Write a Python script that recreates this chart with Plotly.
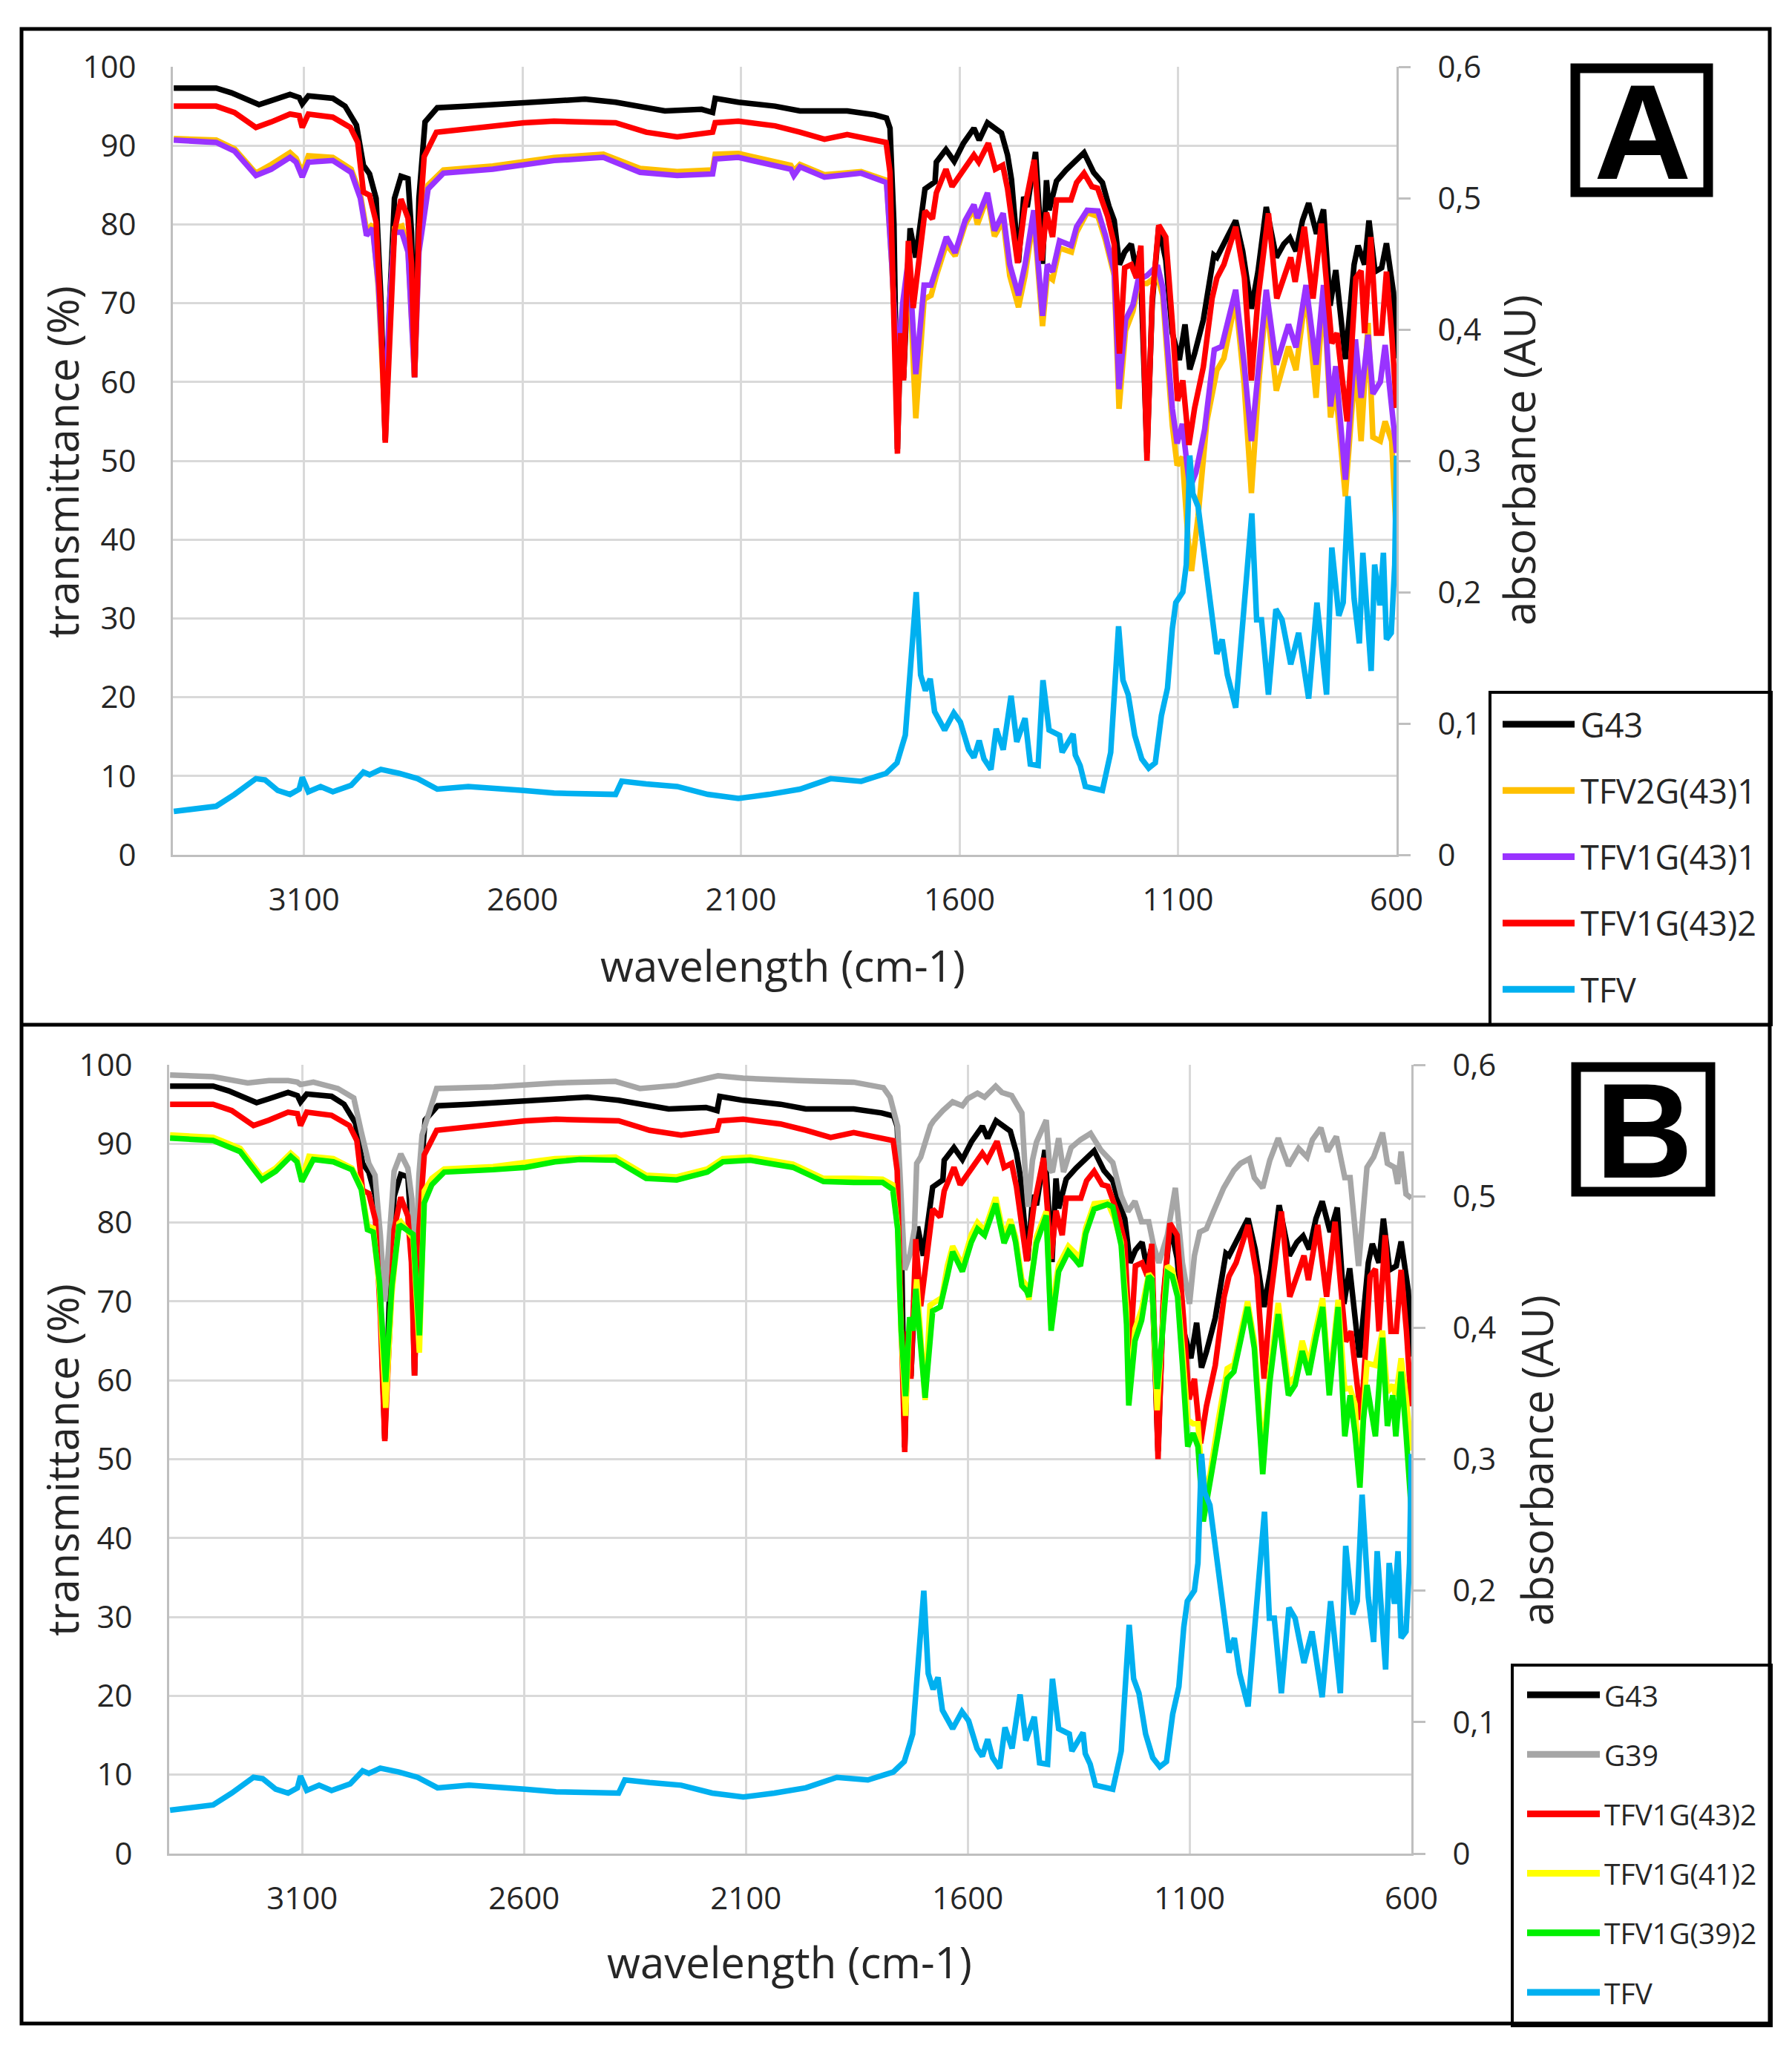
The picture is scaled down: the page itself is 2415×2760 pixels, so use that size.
import plotly.graph_objects as go

# ---------------- data (wavenumber cm-1, value) ----------------
# transmittance (%) series
G43 = [(3398,97.3),(3301,97.3),(3266,96.7),(3203,95.2),(3175,95.7),(3132,96.5),(3111,96.1),(3104,95.3),(3090,96.3),(3034,96.0),
       (3006,95.0),(2980,92.6),(2964,87.5),(2950,86.4),(2935,83.3),(2924,70.6),(2914,52.6),(2904,70.0),(2893,83.3),(2878,86.1),
       (2862,85.8),(2854,79.0),(2847,60.6),(2837,83.3),(2823,93.0),(2795,94.8),(2724,95.0),(2598,95.4),(2457,95.9),(2387,95.5),
       (2317,94.9),(2274,94.4),(2190,94.6),(2165,94.2),(2159,96.0),(2106,95.5),(2022,95.0),(1965,94.4),(1857,94.4),(1794,93.9),
       (1767,93.5),(1759,92.2),(1750,80.0),(1742,51.5),(1735,66.0),(1728,60.5),(1713,79.5),(1700,75.8),(1679,84.5),(1656,85.4),
       (1653,87.9),(1631,89.5),(1612,88.0),(1591,90.3),(1567,92.2),(1555,90.7),(1536,92.9),(1520,92.2),(1504,91.6),(1490,88.8),
       (1481,85.7),(1465,75.2),(1453,83.5),(1445,82.2),(1426,89.2),(1410,75.0),(1401,85.6),(1395,81.8),(1378,85.5),(1356,86.9),
       (1334,88.0),(1315,89.1),(1293,86.6),(1273,85.3),(1258,82.3),(1246,80.5),(1234,74.9),(1222,76.5),(1207,77.5),(1195,74.0),
       (1187,76.6),(1171,51.0),(1159,70.0),(1144,79.7),(1128,75.5),(1113,66.2),(1097,62.8),(1084,67.3),(1073,61.6),(1062,63.6),
       (1042,67.9),(1018,76.1),(1011,75.8),(987,78.4),(968,80.5),(952,76.6),(932,69.3),(917,74.0),(898,82.2),(875,75.8),
       (858,77.5),(844,78.3),(830,76.6),(815,80.5),(801,82.7),(783,78.8),(767,81.9),(752,69.7),(739,74.2),(717,62.9),
       (697,74.9),(688,77.3),(673,74.9),(663,80.5),(649,74.0),(634,74.5),(623,77.6),(607,71.4),(600,63.0)]

G39 = [(3398,98.7),(3301,98.5),(3223,97.7),(3175,98.0),(3132,98.0),(3111,97.8),(3104,97.5),(3075,97.8),(3020,97.0),(2984,95.8),
       (2967,91.5),(2950,87.5),(2936,86.0),(2924,78.4),(2914,70.0),(2904,78.0),(2893,86.5),(2878,88.7),(2862,86.9),(2853,83.0),
       (2847,70.8),(2837,86.0),(2830,91.1),(2797,97.0),(2668,97.2),(2528,97.7),(2394,97.9),(2339,97.0),(2256,97.4),(2163,98.6),
       (2106,98.3),(1981,98.0),(1857,97.8),(1790,97.1),(1775,95.9),(1758,92.2),(1750,84.0),(1742,74.0),(1730,76.0),(1720,79.2),
       (1715,87.5),(1706,88.3),(1684,92.3),(1677,92.9),(1656,94.2),(1634,95.3),(1612,94.8),(1600,95.7),(1578,96.4),(1562,95.9),
       (1537,97.3),(1523,96.5),(1501,96.1),(1478,93.9),(1471,87.0),(1464,82.0),(1454,87.9),(1445,90.2),(1423,93.0),(1415,86.8),
       (1409,86.4),(1395,90.7),(1384,86.4),(1367,89.5),(1346,90.5),(1323,91.3),(1300,89.2),(1273,87.6),(1254,83.4),(1239,81.4),
       (1223,82.7),(1208,80.1),(1192,80.1),(1181,77.1),(1169,74.9),(1150,78.4),(1132,84.4),(1116,74.9),(1100,69.7),(1089,75.8),
       (1077,78.8),(1062,79.2),(1046,81.4),(1023,84.4),(1000,86.6),(985,87.5),(965,88.1),(954,85.7),(935,84.4),(919,87.9),
       (900,90.7),(877,87.2),(854,89.4),(835,88.3),(823,90.5),(804,92.0),(789,89.0),(769,90.9),(750,85.7),(738,85.7),
       (719,74.5),(700,87.0),(685,88.3),(665,91.4),(654,87.5),(638,87.0),(631,84.9),(623,89.0),(612,83.6),(600,83.1)]

TFV2G_43_1 = [(3398,90.9),(3301,90.7),(3259,89.6),(3210,86.5),(3175,87.6),(3132,89.1),(3118,88.4),(3104,86.6),(3090,88.7),(3034,88.5),
       (2992,87.0),(2971,83.8),(2957,79.2),(2943,80.0),(2930,72.0),(2914,54.5),(2904,69.0),(2893,79.5),(2876,79.8),(2862,77.0),
       (2847,60.6),(2837,77.0),(2816,85.0),(2781,86.9),(2668,87.4),(2528,88.5),(2415,88.9),(2331,87.1),(2246,86.7),(2165,86.9),
       (2159,88.9),(2106,89.0),(1986,87.5),(1979,86.8),(1965,87.6),(1909,86.3),(1825,86.7),(1794,86.2),(1767,85.6),(1755,75.0),
       (1742,60.0),(1730,69.0),(1716,75.0),(1700,55.4),(1681,70.5),(1665,71.0),(1653,73.5),(1630,77.5),(1610,76.0),(1587,80.0),
       (1567,82.0),(1559,80.0),(1536,83.5),(1520,78.5),(1500,80.5),(1485,73.5),(1465,69.5),(1450,73.5),(1430,81.0),(1410,67.1),
       (1399,73.5),(1387,73.0),(1371,77.0),(1344,76.5),(1332,79.0),(1308,81.5),(1283,81.0),(1266,78.0),(1246,73.5),(1235,56.6),
       (1220,66.5),(1203,69.0),(1191,72.5),(1171,72.5),(1147,73.5),(1135,71.0),(1113,54.5),(1102,49.4),(1090,50.5),(1077,40.0),
       (1069,36.0),(1054,43.0),(1034,55.0),(1011,61.5),(995,63.0),(968,70.5),(949,60.0),(932,45.9),(915,60.0),(898,70.5),
       (875,58.9),(847,64.5),(830,61.5),(807,71.5),(784,58.0),(767,71.5),(751,55.5),(739,59.0),(717,45.5),(694,62.5),
       (681,52.5),(665,67.5),(654,53.0),(637,52.5),(626,55.0),(611,52.5),(600,40.0)]

TFV1G_43_1 = [(3398,90.7),(3301,90.4),(3259,89.3),(3210,86.2),(3175,87.0),(3132,88.5),(3118,87.9),(3104,86.0),(3090,87.9),(3034,88.1),
       (2992,86.6),(2971,83.3),(2957,78.6),(2943,79.5),(2930,72.5),(2914,56.5),(2904,70.0),(2893,79.0),(2876,79.0),(2862,76.5),
       (2847,60.6),(2837,76.5),(2816,84.5),(2781,86.5),(2668,87.0),(2528,88.1),(2415,88.5),(2331,86.6),(2246,86.2),(2165,86.4),
       (2159,88.3),(2106,88.5),(1986,87.0),(1979,86.2),(1965,87.3),(1909,86.0),(1825,86.5),(1794,85.9),(1767,85.3),(1755,75.0),
       (1742,61.5),(1730,70.0),(1716,76.0),(1700,61.0),(1681,72.3),(1665,72.3),(1653,74.5),(1630,78.4),(1610,76.4),(1587,80.5),
       (1567,82.5),(1559,80.8),(1536,84.0),(1520,79.2),(1500,81.4),(1485,74.9),(1465,71.0),(1450,74.9),(1430,81.8),(1410,68.4),
       (1399,74.9),(1387,74.0),(1371,77.9),(1344,77.3),(1332,79.7),(1308,81.8),(1283,81.7),(1266,78.6),(1246,74.0),(1235,59.1),
       (1220,67.9),(1203,69.8),(1191,73.0),(1171,73.5),(1147,74.8),(1135,72.0),(1113,56.6),(1102,52.2),(1090,54.7),(1073,46.5),
       (1059,48.5),(1039,54.0),(1017,64.1),(1000,64.5),(968,71.7),(949,62.5),(932,52.5),(915,62.5),(898,71.7),(875,62.2),
       (847,67.3),(830,64.4),(807,72.3),(784,62.2),(767,72.3),(751,56.9),(739,62.0),(717,47.6),(694,65.4),(681,58.0),
       (665,66.0),(654,58.5),(637,60.0),(626,64.7),(611,57.6),(600,51.0)]

TFV1G_43_2 = [(3398,95.0),(3301,95.0),(3259,94.2),(3210,92.3),(3175,93.0),(3132,94.0),(3111,93.8),(3104,92.3),(3090,94.0),(3034,93.6),
       (2994,92.3),(2977,90.4),(2964,84.1),(2950,83.7),(2935,80.3),(2924,68.1),(2914,52.3),(2904,66.5),(2893,79.1),(2878,83.2),
       (2862,80.8),(2854,75.0),(2847,60.6),(2837,79.1),(2825,88.6),(2797,91.7),(2668,92.5),(2597,92.9),(2528,93.1),(2387,92.9),
       (2317,91.7),(2246,91.1),(2165,91.7),(2159,92.9),(2106,93.1),(2022,92.5),(1965,91.7),(1909,90.8),(1857,91.4),(1794,90.7),
       (1768,90.4),(1759,86.6),(1751,70.6),(1742,50.9),(1735,66.2),(1728,60.2),(1717,77.9),(1706,69.4),(1679,81.7),(1662,80.7),
       (1653,84.0),(1631,87.0),(1617,84.8),(1590,87.0),(1567,88.8),(1556,87.9),(1534,90.3),(1518,87.0),(1501,87.5),(1490,84.5),
       (1467,75.1),(1451,82.0),(1429,88.2),(1412,75.4),(1401,81.5),(1387,78.4),(1378,83.1),(1345,83.1),(1332,85.3),(1315,86.5),
       (1297,84.8),(1284,84.6),(1261,81.0),(1246,77.5),(1234,63.6),(1222,74.5),(1207,74.9),(1195,73.2),(1185,77.3),(1171,50.0),
       (1159,70.6),(1144,79.9),(1128,78.4),(1113,67.5),(1101,57.6),(1089,60.2),(1075,52.0),(1062,56.7),(1042,61.9),(1022,70.6),
       (1011,73.2),(995,74.9),(968,79.7),(948,73.2),(932,60.2),(917,70.6),(893,81.4),(874,70.6),(854,73.6),(842,75.8),
       (832,72.7),(811,79.7),(791,70.6),(772,80.1),(748,64.9),(736,66.2),(713,55.0),(693,73.2),(681,74.1),(673,66.2),
       (659,78.4),(646,66.2),(634,66.2),(623,74.0),(611,66.2),(600,56.7)]

TFV1G_41_2 = [(3398,91.1),(3301,90.8),(3240,89.4),(3191,85.8),(3160,86.9),(3126,88.8),(3112,88.1),(3101,85.6),(3085,88.4),(3030,88.1),
       (2988,86.9),(2967,84.6),(2953,79.6),(2940,79.3),(2926,71.5),(2912,56.5),(2898,71.0),(2882,79.9),(2878,80.1),(2850,78.0),
       (2836,63.5),(2825,84.0),(2808,85.6),(2780,86.8),(2670,87.1),(2531,88.1),(2394,88.3),(2325,86.0),(2256,85.8),(2187,86.8),
       (2152,88.1),(2090,88.3),(1994,87.4),(1925,85.6),(1857,85.6),(1792,85.5),(1769,84.8),(1758,79.5),(1750,66.0),(1740,55.5),
       (1731,67.5),(1723,66.5),(1715,72.8),(1708,67.0),(1696,57.5),(1685,69.5),(1673,70.0),(1658,70.5),(1646,74.5),(1634,77.0),
       (1612,74.6),(1592,78.5),(1578,80.0),(1562,79.0),(1537,83.2),(1518,78.2),(1504,80.4),(1492,78.2),(1478,72.8),(1467,72.0),
       (1462,70.2),(1445,78.2),(1423,81.4),(1412,67.0),(1400,73.0),(1395,74.6),(1373,77.0),(1356,76.0),(1346,75.5),(1334,79.3),
       (1315,82.4),(1285,82.6),(1269,80.5),(1254,77.5),(1242,69.0),(1237,57.5),(1223,66.5),(1208,69.0),(1192,73.5),(1185,73.0),
       (1173,56.2),(1162,66.0),(1150,74.5),(1139,74.0),(1127,71.0),(1116,64.0),(1104,55.0),(1092,54.5),(1081,54.5),(1069,45.5),
       (1054,48.0),(1035,55.0),(1015,61.5),(1000,62.0),(985,66.0),(969,70.0),(954,65.0),(935,50.0),(919,61.0),(900,69.8),
       (877,59.5),(862,60.5),(846,65.0),(831,62.0),(815,66.5),(800,70.4),(785,59.5),(765,70.2),(750,58.9),(738,59.0),
       (727,57.0),(716,47.0),(708,56.0),(700,62.2),(681,61.9),(665,66.3),(654,58.5),(642,59.4),(635,58.0),(623,62.8),
       (612,58.0),(600,51.1)]

TFV1G_39_2 = [(3398,90.7),(3301,90.4),(3240,89.0),(3191,85.4),(3160,86.5),(3126,88.4),(3112,87.7),(3101,85.2),(3075,88.0),(3030,87.7),
       (2988,86.7),(2967,84.2),(2953,79.1),(2940,78.8),(2926,72.5),(2912,59.8),(2898,72.0),(2882,79.5),(2878,79.6),(2850,78.5),
       (2836,65.7),(2825,82.5),(2808,84.8),(2780,86.4),(2670,86.7),(2597,87.0),(2531,87.7),(2475,88.0),(2394,87.9),(2325,85.6),
       (2256,85.4),(2187,86.4),(2152,87.7),(2090,87.9),(1994,87.0),(1925,85.2),(1857,85.1),(1792,85.1),(1769,84.2),(1758,79.2),
       (1750,66.3),(1740,58.0),(1731,68.0),(1723,66.3),(1717,71.6),(1708,66.3),(1696,57.8),(1679,68.8),(1662,69.3),(1646,73.2),
       (1634,76.3),(1612,73.8),(1592,77.5),(1578,79.2),(1562,78.4),(1537,82.4),(1518,77.4),(1501,79.7),(1492,77.5),(1478,72.0),
       (1467,71.3),(1462,70.6),(1445,77.4),(1423,80.9),(1412,66.3),(1395,73.8),(1373,76.3),(1356,75.2),(1346,74.5),(1334,78.6),
       (1315,81.7),(1285,82.3),(1273,82.0),(1254,77.1),(1242,67.1),(1237,56.8),(1223,65.0),(1208,67.6),(1192,73.2),(1185,72.8),
       (1173,58.9),(1162,65.4),(1150,73.6),(1139,73.2),(1127,70.6),(1116,62.0),(1104,51.6),(1092,53.3),(1081,51.6),(1069,42.1),
       (1054,46.8),(1035,53.3),(1015,60.2),(1000,61.1),(985,65.0),(969,69.3),(954,64.1),(935,48.1),(919,59.8),(900,68.4),
       (877,58.1),(862,59.4),(846,63.7),(831,60.7),(815,65.4),(800,69.3),(785,58.1),(765,69.3),(750,52.9),(738,58.1),
       (727,53.3),(716,46.4),(708,55.0),(700,59.4),(681,52.9),(665,65.4),(654,54.2),(642,58.1),(635,52.9),(623,61.1),
       (612,53.3),(600,43.4)]

# absorbance (AU) series, secondary axis
TFV = [(3398,0.033),(3301,0.037),(3259,0.046),(3210,0.058),(3189,0.057),(3160,0.049),(3132,0.046),(3111,0.050),(3104,0.059),(3090,0.048),
       (3062,0.052),(3034,0.048),(2992,0.053),(2964,0.063),(2950,0.061),(2924,0.065),(2882,0.062),(2840,0.058),(2795,0.050),(2724,0.052),
       (2598,0.049),(2528,0.047),(2387,0.046),(2373,0.056),(2317,0.054),(2246,0.052),(2176,0.046),(2106,0.043),(2036,0.046),(1965,0.050),
       (1895,0.058),(1825,0.056),(1768,0.062),(1743,0.070),(1724,0.091),(1712,0.143),(1699,0.200),(1689,0.137),(1678,0.125),(1667,0.134),
       (1657,0.109),(1634,0.095),(1613,0.108),(1598,0.101),(1579,0.080),(1567,0.074),(1555,0.087),(1544,0.073),(1528,0.065),(1516,0.096),
       (1500,0.080),(1482,0.121),(1469,0.086),(1450,0.104),(1438,0.069),(1420,0.068),(1409,0.133),(1395,0.095),(1371,0.091),(1365,0.078),
       (1340,0.092),(1335,0.076),(1324,0.068),(1312,0.052),(1293,0.050),(1273,0.049),(1254,0.078),(1236,0.174),(1226,0.133),(1214,0.122),
       (1199,0.091),(1183,0.073),(1167,0.066),(1152,0.070),(1138,0.106),(1124,0.127),(1113,0.172),(1105,0.192),(1089,0.200),(1081,0.221),
       (1073,0.304),(1066,0.275),(1054,0.265),(1038,0.221),(1022,0.184),(1011,0.153),(999,0.164),(987,0.137),(968,0.112),(948,0.187),
       (931,0.260),(920,0.179),(909,0.179),(893,0.122),(876,0.187),(862,0.179),(842,0.145),(824,0.169),(801,0.119),(782,0.192),
       (760,0.122),(748,0.234),(732,0.182),(722,0.192),(711,0.273),(697,0.195),(685,0.161),(677,0.230),(667,0.174),(658,0.140),
       (650,0.221),(638,0.190),(630,0.230),(623,0.164),(612,0.169),(604,0.221),(600,0.304)]

X_TICKS = [3100, 2600, 2100, 1600, 1100, 600]
Y_TICKS = [0, 10, 20, 30, 40, 50, 60, 70, 80, 90, 100]
Y2_TICKS = [0, 0.1, 0.2, 0.3, 0.4, 0.5, 0.6]
Y2_LABELS = ["0", "0,1", "0,2", "0,3", "0,4", "0,5", "0,6"]

# name, data, colour, secondary
PANEL_A = [("G43", G43, "#000000", False),
           ("TFV2G(43)1", TFV2G_43_1, "#FFC000", False),
           ("TFV1G(43)1", TFV1G_43_1, "#9933FF", False),
           ("TFV1G(43)2", TFV1G_43_2, "#FF0000", False),
           ("TFV", TFV, "#00B0F0", True)]
PANEL_B = [("G43", G43, "#000000", False),
           ("G39", G39, "#A6A6A6", False),
           ("TFV1G(43)2", TFV1G_43_2, "#FF0000", False),
           ("TFV1G(41)2", TFV1G_41_2, "#FFFF00", False),
           ("TFV1G(39)2", TFV1G_39_2, "#00F000", False),
           ("TFV", TFV, "#00B0F0", True)]

# ---------------- figure ----------------
W, H = 2415, 2760
FONT = "Open Sans"
TXT = "#262626"
GRID = "#D9D9D9"
AXC = "#BFBFBF"
LW = 7.5


def fx(px):
    return px / W


def fy(py):
    return 1 - py / H


fig = go.Figure()
for name, data, col, sec in PANEL_A:
    xs, ys = zip(*data)
    fig.add_trace(go.Scatter(x=xs, y=ys, mode="lines", name=name, showlegend=False,
                             line=dict(color=col, width=LW), xaxis="x", yaxis="y2" if sec else "y"))
for name, data, col, sec in PANEL_B:
    xs, ys = zip(*data)
    fig.add_trace(go.Scatter(x=xs, y=ys, mode="lines", name=name, showlegend=False,
                             line=dict(color=col, width=LW), xaxis="x2", yaxis="y4" if sec else "y3"))

tickfont = dict(family=FONT, size=42, color=TXT)


def xax(domain, anchor):
    return dict(domain=domain, anchor=anchor, range=[3400, 600], tickvals=X_TICKS,
                ticktext=[str(v) for v in X_TICKS], showgrid=True, gridcolor=GRID, gridwidth=3,
                showline=True, linecolor=AXC, linewidth=3, ticks="", zeroline=False,
                tickfont=tickfont, ticklabelstandoff=22)


def yax(domain, anchor):
    return dict(domain=domain, anchor=anchor, range=[0, 100], tickvals=Y_TICKS,
                ticktext=[str(v) for v in Y_TICKS], showgrid=True, gridcolor=GRID, gridwidth=3,
                showline=True, linecolor=AXC, linewidth=3, ticks="", zeroline=False,
                tickfont=tickfont, ticklabelstandoff=38)


def y2ax(overlay, anchor):
    return dict(overlaying=overlay, anchor=anchor, side="right", range=[0, 0.6], tickvals=Y2_TICKS,
                ticktext=Y2_LABELS, showgrid=False, showline=True, linecolor=AXC, linewidth=3,
                ticks="outside", ticklen=16, tickwidth=3, tickcolor=AXC, zeroline=False,
                tickfont=tickfont, ticklabelstandoff=28)


fig.update_layout(
    width=W, height=H, autosize=False,
    margin=dict(l=0, r=0, t=0, b=0, autoexpand=False),
    paper_bgcolor="white", plot_bgcolor="white",
    xaxis=xax([fx(233), fx(1882)], "y"),
    yaxis=yax([fy(1152), fy(90)], "x"),
    yaxis2=y2ax("y", "x"),
    xaxis2=xax([fx(228), fx(1902)], "y3"),
    yaxis3=yax([fy(2498), fy(1435)], "x2"),
    yaxis4=y2ax("y3", "x2"),
)

shapes = []
ann = []


def rect(x0, y0, x1, y1, w):
    shapes.append(dict(type="rect", xref="paper", yref="paper", x0=fx(x0), x1=fx(x1),
                       y0=fy(y1), y1=fy(y0), line=dict(color="black", width=w), fillcolor="rgba(0,0,0,0)"))


# outer frame and panel divider
rect(29, 39, 2385, 2727, 5)
shapes.append(dict(type="line", xref="paper", yref="paper", x0=fx(27), x1=fx(2387), y0=fy(1381), y1=fy(1381),
                   line=dict(color="black", width=5)))
# legend boxes
rect(2008, 933, 2387, 1381, 4)
rect(2038, 2244, 2387, 2730, 4)
# letter boxes
rect(2123, 92, 2302, 259, 13)
rect(2124, 1438, 2305, 1606, 13)


def text(s, x, y, size, angle=0, xanchor="center", bold=False, family=FONT):
    ann.append(dict(text=("<b>%s</b>" % s) if bold else s, x=fx(x), y=fy(y), xref="paper", yref="paper",
                    showarrow=False, xanchor=xanchor, yanchor="middle", textangle=angle,
                    font=dict(family=family, size=size, color="black" if bold else TXT)))


# axis titles
text("transmittance (%)", 83, 623, 58, -90)
text("absorbance (AU)", 2046, 620, 58, -90)
text("wavelength (cm-1)", 1055, 1300, 58)
text("transmittance (%)", 83, 1968, 58, -90)
text("absorbance (AU)", 2070, 1968, 58, -90)
text("wavelength (cm-1)", 1064, 2643, 58)
# panel letters
text("A", 2213, 178, 182, bold=True, family="Liberation Sans")
text("B", 2215, 1524, 182, bold=True, family="Liberation Sans")


# legends
def legend(entries, y_first, step, x0, x1, tx, size):
    for i, (name, _d, col, _s) in enumerate(entries):
        y = y_first + i * step
        shapes.append(dict(type="line", xref="paper", yref="paper", x0=fx(x0), x1=fx(x1), y0=fy(y), y1=fy(y),
                           line=dict(color=col, width=9)))
        ann.append(dict(text=name, x=fx(tx), y=fy(y), xref="paper", yref="paper", showarrow=False,
                        xanchor="left", yanchor="middle", font=dict(family=FONT, size=size, color=TXT)))


legend(PANEL_A, 976, 89.3, 2025, 2122, 2128, 45)
legend(PANEL_B, 2284, 80.2, 2058, 2156, 2160, 39)

fig.update_layout(shapes=shapes, annotations=ann)

# make the page margin-free and let the figure fill the browser viewport exactly,
# keeping text in proportion to the figure
POST = """
document.documentElement.style.margin='0';
document.body.style.margin='0';
document.body.style.overflow='hidden';
var gd = document.getElementById('{plot_id}');
var vw = window.innerWidth, vh = window.innerHeight;
if (vw > 0 && vh > 0 && (vw !== 2415 || vh !== 2760)) {
    var f = Math.sqrt((vw * vh) / (2415 * 2760));
    var upd = {width: vw, height: vh};
    var anns = gd.layout.annotations || [];
    for (var i = 0; i < anns.length; i++) {
        upd['annotations[' + i + '].font.size'] = anns[i].font.size * f;
    }
    ['xaxis', 'xaxis2', 'yaxis', 'yaxis2', 'yaxis3', 'yaxis4'].forEach(function (k) {
        var ax = gd.layout[k];
        if (ax && ax.tickfont && ax.tickfont.size) { upd[k + '.tickfont.size'] = ax.tickfont.size * f; }
        if (ax && ax.ticklabelstandoff) { upd[k + '.ticklabelstandoff'] = ax.ticklabelstandoff * f; }
    });
    Plotly.relayout(gd, upd);
}
"""

fig.write_html("out.html", config={"displayModeBar": False}, post_script=POST)
